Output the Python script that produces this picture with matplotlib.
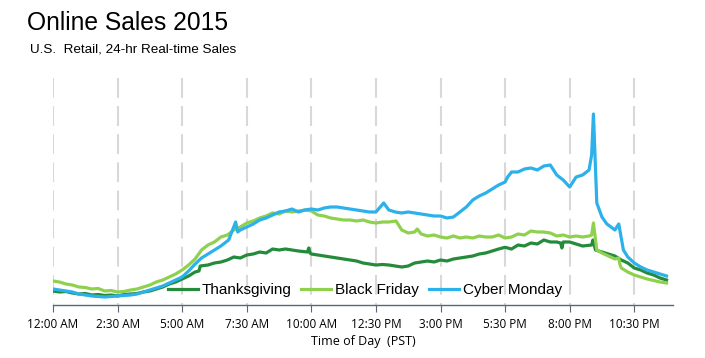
import matplotlib
matplotlib.use("Agg")
import matplotlib.pyplot as plt
from matplotlib import font_manager

# ---------------- data (hour of day, relative sales index) ----------------
thanks_h = [0, 0.25, 0.5, 0.75, 1, 1.25, 1.5, 1.75, 2, 2.25, 2.5, 2.75, 3, 3.25, 3.5, 3.75,
            4, 4.25, 4.5, 4.75, 5, 5.25, 5.5, 5.65, 5.7, 6, 6.25, 6.5, 6.75, 7, 7.25, 7.5, 7.75,
            8, 8.25, 8.5, 8.75, 9, 9.25, 9.5, 9.85, 9.9, 9.95, 10, 10.25, 10.5, 10.75,
            11, 11.25, 11.5, 11.75, 12, 12.25, 12.5, 12.75, 13, 13.25, 13.5, 13.75,
            14, 14.25, 14.5, 14.75, 15, 15.25, 15.5, 15.75, 16, 16.25, 16.5, 16.75,
            17, 17.25, 17.5, 17.75, 18, 18.25, 18.5, 18.75, 19, 19.25, 19.5, 19.65, 19.7,
            19.75, 20, 20.25, 20.5, 20.85, 20.9, 21.0, 21.25, 21.5, 21.75, 22, 22.25, 22.5,
            22.75, 23, 23.25, 23.5, 23.75]
thanks_v = [14, 13, 13.5, 12, 11, 11.5, 10, 10.5, 9.5, 10, 9, 10.5, 11, 11.5, 13, 14,
            16, 18, 21, 23, 26, 29, 33, 34, 39, 40, 42, 43, 45, 48, 47, 50, 51,
            53, 52, 56, 55, 56, 55, 54, 53, 57, 52, 51, 50, 49, 48,
            47, 46, 45, 44, 42, 41, 40, 40.5, 40, 39, 38, 39,
            42, 43, 44, 43, 45, 44, 46, 47, 48, 49, 51, 52,
            54, 56, 57.7, 56, 60, 59, 62, 61, 65, 63, 63, 62, 57,
            63, 63, 61, 59, 60, 65, 55, 53, 51, 49, 45, 42, 37,
            35, 32, 30, 27, 25]

black_h = [0, 0.25, 0.5, 0.75, 1, 1.25, 1.5, 1.75, 2, 2.25, 2.5, 2.75, 3, 3.25, 3.5, 3.75,
           4, 4.25, 4.5, 4.75, 5, 5.25, 5.5, 5.75, 6, 6.25, 6.5, 6.75, 7, 7.25, 7.5, 7.75,
           8, 8.25, 8.5, 8.75, 9, 9.25, 9.5, 9.75, 10, 10.25, 10.5, 10.75, 11, 11.25, 11.5,
           11.75, 12, 12.25, 12.5, 12.75, 13, 13.28, 13.5, 13.75, 14, 14.1, 14.25, 14.5, 14.75,
           15, 15.25, 15.5, 15.75, 16, 16.25, 16.5, 16.75, 17, 17.25, 17.5, 17.75, 18, 18.25,
           18.5, 18.75, 19, 19.25, 19.5, 19.75, 20, 20.25, 20.5, 20.75, 20.85, 20.92, 21.05,
           21.25, 21.5, 21.75, 21.9, 21.95, 22, 22.25, 22.5, 22.75, 23, 23.25, 23.5, 23.75]
black_v = [24, 23, 21, 20, 18, 17.5, 16, 16.5, 14, 14.5, 13, 13.5, 15, 16, 18, 20,
           23, 25, 28, 31, 35, 40, 46, 55, 60, 63, 68, 70, 75, 78, 82, 84,
           87, 89, 92, 91, 94, 93, 94, 95, 94, 90, 89, 87, 86, 85, 85,
           84, 85, 83, 82, 83, 83, 84, 75, 72, 73, 76, 71, 69, 70,
           68, 67, 69, 67, 68, 67, 69, 68, 68, 70, 67, 68, 71, 70,
           74, 73, 73, 72, 69, 70, 68, 69, 68, 69, 70, 82, 55,
           52, 49, 46, 47, 40, 37, 33, 30, 28, 26, 24.5, 23, 22]

cyber_h = [0, 0.25, 0.5, 0.75, 1, 1.25, 1.5, 1.75, 2, 2.25, 2.5, 2.75, 3, 3.25, 3.5, 3.75,
           4, 4.25, 4.5, 4.75, 5, 5.25, 5.5, 5.75, 6, 6.25, 6.5, 6.8, 7.07, 7.15, 7.25, 7.5,
           7.75, 8, 8.25, 8.5, 8.75, 9, 9.25, 9.5, 9.75, 10, 10.25, 10.5, 10.75, 11, 11.25,
           11.5, 11.75, 12, 12.25, 12.5, 12.8, 13, 13.25, 13.5, 13.75, 14, 14.25, 14.5, 14.75,
           15, 15.25, 15.5, 15.75, 16, 16.25, 16.5, 16.75, 17, 17.25, 17.5, 17.6, 17.75, 18,
           18.25, 18.5, 18.75, 19, 19.25, 19.5, 19.75, 20, 20.25, 20.5, 20.75, 20.85, 20.92,
           21.05, 21.25, 21.44, 21.6, 21.75, 21.9, 22.08, 22.25, 22.5, 22.75, 23, 23.25, 23.5,
           23.75]
cyber_v = [16, 15, 14, 13, 11, 10, 9, 8.5, 8, 8.5, 9, 9.5, 10, 11, 13, 15,
           17, 19, 22, 25, 28, 34, 41, 47, 51, 55, 59, 65, 83, 73, 75, 78,
           81, 85, 87, 90, 93, 94, 96, 93, 95, 96, 95, 97, 98, 98, 97,
           96, 95, 94, 93, 93, 102, 95, 93, 92, 93, 92, 91, 90, 89,
           89, 87, 88, 93, 98, 105, 109, 112, 116, 120, 123, 128, 133, 133,
           136, 137, 135, 139, 140, 130, 125, 118, 128, 130, 135, 150, 191,
           102, 88, 81, 78, 75, 81, 55, 48, 42, 38, 35, 33, 31,
           29]

series_names = ["Thanksgiving", "Black Friday", "Cyber Monday"]
series_colors = ["#238b3a", "#8fd14f", "#2cb1ea"]

tick_hours = [0, 2.5, 5, 7.5, 10, 12.5, 15, 17.5, 20, 22.5]
tick_labels = ["12:00 AM", "2:30 AM", "5:00 AM", "7:30 AM", "10:00 AM", "12:30 PM",
               "3:00 PM", "5:30 PM", "8:00 PM", "10:30 PM"]


def pick_font(cands):
    for c in cands:
        try:
            font_manager.findfont(c, fallback_to_default=False)
            return c
        except Exception:
            continue
    return "DejaVu Sans"


main_font = pick_font(["Liberation Sans", "Arial", "DejaVu Sans"])
tick_font = pick_font(["Liberation Sans Narrow", "Open Sans", "Liberation Sans"])

fig = plt.figure(figsize=(7.05, 3.58), dpi=100)
ax = fig.add_axes([53 / 705, 53 / 358, 620 / 705, 230 / 358])

xs = [thanks_h, black_h, cyber_h]
ys = [thanks_v, black_v, cyber_v]
for i in range(3):
    ax.plot(xs[i], ys[i], color=series_colors[i], lw=2.3, label=series_names[i],
            solid_joinstyle="round", zorder=3 + i)

ax.set_xlim(0, 24)
ax.set_ylim(0, 230)

# dashed vertical guides at each tick, dash pattern starting at the top
for t in tick_hours:
    ax.plot([t, t], [227, 0], color="#d8d8d8", lw=1.5, dashes=(9.5, 4), zorder=1)

ax.set_yticks([])
for s in ["top", "right", "left"]:
    ax.spines[s].set_visible(False)
ax.spines["bottom"].set_color("#5b6776")
ax.spines["bottom"].set_linewidth(1.0)
ax.set_xticks(tick_hours)
ax.set_xticklabels(tick_labels, fontfamily=tick_font, fontsize=8.5)
ax.tick_params(axis="x", direction="out", length=5, color="#5b6776", pad=4)
ax.set_xlabel("Time of Day  (PST)", fontfamily=tick_font, fontsize=9, labelpad=3)

leg = ax.legend(loc="center left", bbox_to_anchor=((168 - 53) / 620, (305 - 290) / 230),
                ncol=3, frameon=False, borderpad=0, borderaxespad=0,
                prop={"family": main_font, "size": 11}, handlelength=1.96,
                handletextpad=0.27, columnspacing=0.62)

fig.text(27 / 705, 1 - 30 / 358, "Online Sales 2015", fontfamily=main_font, fontsize=17.7,
         va="baseline", ha="left")
fig.text(30 / 705, 1 - 53 / 358, "U.S.  Retail, 24-hr Real-time Sales", fontfamily=main_font,
         fontsize=9.7, va="baseline", ha="left")

fig.savefig("out.png", dpi=100)
